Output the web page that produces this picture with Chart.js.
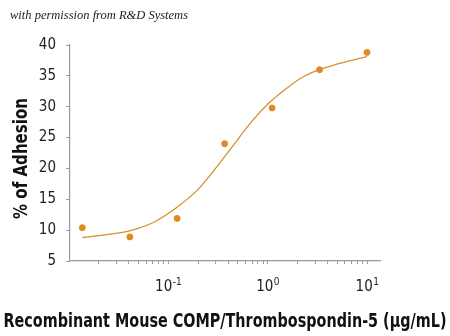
<!DOCTYPE html>
<html>
<head>
<meta charset="utf-8">
<script src="https://cdn.jsdelivr.net/npm/chart.js@4/dist/chart.umd.min.js"></script>
<style>
  html, body { margin: 0; padding: 0; background: #fff; }
  #wrap { position: relative; width: 450px; height: 336px; }
  #credit {
    position: absolute; left: 10px; top: 8px;
    font-family: "Liberation Serif", "DejaVu Serif", serif;
    font-style: italic; font-size: 12.5px; color: #222;
  }
</style>
</head>
<body>
<div id="wrap">
  <canvas id="chartAdhesion" width="450" height="336"></canvas>
  <div id="credit">with permission from R&amp;D Systems</div>
</div>
<script>
// measured adhesion, 3-fold dilution series
const doseUgMl = [0.0137, 0.0412, 0.123, 0.37, 1.11, 3.33, 10];
const adhesionPct = [10.4, 8.9, 11.9, 24.0, 29.8, 36.0, 38.8];

// fitted curve, sampled
const fitDose = [0.0137, 0.025, 0.041, 0.07, 0.12, 0.2, 0.3, 0.45, 0.7, 1.0, 1.5, 2.2, 3.3, 5, 7, 10];
const fitAdhesion = [8.8, 9.3, 9.9, 11.2, 13.6, 16.6, 20.0, 23.7, 27.7, 30.4, 32.8, 34.7, 36.0, 36.9, 37.5, 38.1];

const yTicks = [5, 10, 15, 20, 25, 30, 35, 40];
const xDecades = [-1, 0, 1];

const xTitle = "Recombinant Mouse COMP/Thrombospondin-5 (\u03bcg/mL)";
const yTitle = "% of Adhesion";

const narrow = "'Liberation Sans Narrow', 'DejaVu Sans Condensed', sans-serif";
const axisGray = "#9a9a9a";

const canvas = document.getElementById("chartAdhesion");

const puntos = doseUgMl.map((d, i) => ({ x: d, y: adhesionPct[i] }));
const curva = fitDose.map((d, i) => ({ x: d, y: fitAdhesion[i] }));

// minor + major tick positions for the log axis
function logTicks(min, max) {
    const out = [];
    for (let e = -2; e <= 1; e++) {
        for (let m = 1; m <= 9; m++) {
            const v = m * Math.pow(10, e);
            if (v >= min && v <= max) out.push({ value: v, major: m === 1 });
        }
    }
    return out;
}

// bold condensed text stretched to a given length
function drawStretched(ctx, text, len) {
    ctx.font = "bold 19px " + narrow;
    const w = ctx.measureText(text).width;
    ctx.scale(len / w, 1);
    ctx.textAlign = "center";
    ctx.textBaseline = "alphabetic";
    ctx.fillText(text, 0, 0);
}

// "10" with a raised exponent under each decade, plus both axis titles
const axisText = {
    id: "axisText",
    afterDraw(chart) {
        const ctx = chart.ctx;
        const sx = chart.scales.x;
        ctx.save();
        ctx.fillStyle = "#222";
        ctx.textBaseline = "alphabetic";
        xDecades.forEach((e) => {
            const px = sx.getPixelForValue(Math.pow(10, e));
            ctx.font = "15px " + narrow;
            const wBase = ctx.measureText("10").width;
            ctx.font = "10px " + narrow;
            const exp = String(e);
            const wExp = ctx.measureText(exp).width;
            const left = px - (wBase + wExp) / 2;
            const y = sx.top + 30;
            ctx.font = "15px " + narrow;
            ctx.textAlign = "left";
            ctx.fillText("10", left, y);
            ctx.font = "10px " + narrow;
            ctx.fillText(exp, left + wBase + 0.5, y - 6);
        });
        ctx.restore();

        ctx.save();
        ctx.fillStyle = "#111";
        ctx.translate(225, 327);
        drawStretched(ctx, xTitle, 443);
        ctx.restore();

        ctx.save();
        ctx.fillStyle = "#111";
        ctx.translate(27, 158.5);
        ctx.rotate(-Math.PI / 2);
        drawStretched(ctx, yTitle, 121);
        ctx.restore();
    },
};

const config = {
    type: "scatter",
    data: {
        datasets: [
            {
                label: "% of Adhesion",
                data: puntos,
                backgroundColor: "#de8a1f",
                borderColor: "#de8a1f",
                pointRadius: 3,
                pointHoverRadius: 3,
                showLine: false,
            },
            {
                label: "fit",
                data: curva,
                showLine: true,
                borderColor: "#d4922e",
                borderWidth: 1.3,
                pointRadius: 0,
                cubicInterpolationMode: "monotone",
                fill: false,
            },
        ],
    },
    plugins: [axisText],
    options: {
        responsive: false,
        animation: false,
        layout: { padding: { left: 0, right: 70, top: 45, bottom: 0 } },
        plugins: {
            legend: { display: false },
            tooltip: { enabled: false },
        },
        scales: {
            x: {
                type: "logarithmic",
                min: 0.0103,
                max: 13.5,
                afterBuildTicks: (scale) => {
                    scale.ticks = logTicks(scale.min, scale.max);
                },
                afterFit: (scale) => {
                    scale.height = 75;
                },
                border: { color: axisGray, width: 1.2 },
                grid: {
                    drawOnChartArea: false,
                    color: axisGray,
                    tickLength: 3,
                },
                ticks: {
                    autoSkip: false,
                    maxRotation: 0,
                    callback: () => "",
                },
            },
            y: {
                min: 5,
                max: 40,
                afterBuildTicks: (scale) => {
                    scale.ticks = yTicks.map((v) => ({ value: v }));
                },
                afterFit: (scale) => {
                    scale.width = 70;
                },
                border: { color: axisGray, width: 1.2 },
                grid: {
                    drawOnChartArea: false,
                    color: axisGray,
                    tickLength: 4,
                },
                ticks: {
                    color: "#222",
                    padding: 10,
                    font: { family: narrow, size: 15 },
                },
            },
        },
    },
};

new Chart(canvas, config);
</script>
</body>
</html>
